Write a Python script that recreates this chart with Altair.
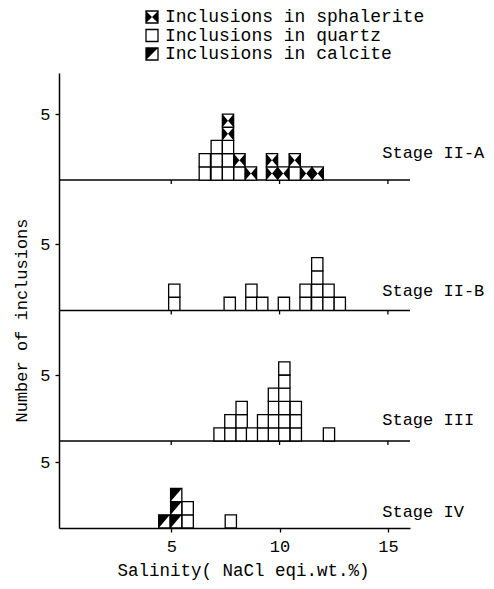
import altair as alt
import pandas as pd

# ---------------- data ----------------
stages = ["Stage II-A", "Stage II-B", "Stage III", "Stage IV"]

# column centres (wt.% NaCl) and number of inclusions per host mineral
iia_centers = [6.55, 7.10, 7.62, 8.15, 8.68, 9.65, 10.17, 10.70, 11.23, 11.76]
iia_quartz  = [2, 3, 3, 1, 0, 0, 0, 1, 0, 0]
iia_sphal   = [0, 0, 2, 1, 1, 2, 1, 1, 1, 1]
iia_calc    = [0, 0, 0, 0, 0, 0, 0, 0, 0, 0]

iib_centers = [5.14, 7.70, 8.70, 9.20, 10.20, 11.20, 11.74, 12.26, 12.78]
iib_quartz  = [2, 1, 2, 1, 1, 2, 4, 2, 1]
iib_sphal   = [0, 0, 0, 0, 0, 0, 0, 0, 0]
iib_calc    = [0, 0, 0, 0, 0, 0, 0, 0, 0]

iii_centers = [7.23, 7.73, 8.25, 8.73, 9.24, 9.74, 10.22, 10.75, 12.28]
iii_quartz  = [1, 2, 3, 1, 2, 4, 6, 3, 1]
iii_sphal   = [0, 0, 0, 0, 0, 0, 0, 0, 0]
iii_calc    = [0, 0, 0, 0, 0, 0, 0, 0, 0]

iv_centers = [4.68, 5.23, 5.76, 7.75]
iv_quartz  = [0, 0, 2, 1]
iv_sphal   = [0, 0, 0, 0]
iv_calc    = [1, 3, 0, 0]

x_ticks = [5, 10, 15]
legend_labels = ["Inclusions in sphalerite", "Inclusions in quartz", "Inclusions in calcite"]
legend_kinds = ["sphalerite", "quartz", "calcite"]

# ---------------- layout (not data) ----------------
panel_base = [26.36, 16.48, 6.59, 0.0]      # vertical offset of each stacked panel (counts)
y_top = 34.47
x_min, x_max = -0.18, 16.02
half_w = 0.26                                  # half width of one class (wt.%)
label_x = 14.74
label_dy = [2.05, 1.5, 1.6, 1.2]
FONT = "Liberation Mono"

panels = [
    (iia_centers, iia_quartz, iia_sphal, iia_calc),
    (iib_centers, iib_quartz, iib_sphal, iib_calc),
    (iii_centers, iii_quartz, iii_sphal, iii_calc),
    (iv_centers, iv_quartz, iv_sphal, iv_calc),
]

rows = []
for p, (cs, q, s, c) in enumerate(panels):
    base = panel_base[p]
    for i, cx in enumerate(cs):
        level = 0
        for kind, n in (("quartz", q[i]), ("sphalerite", s[i]), ("calcite", c[i])):
            for _ in range(n):
                rows.append({
                    "stage": stages[p], "kind": kind,
                    "x0": cx - half_w, "x1": cx + half_w, "xc": cx,
                    "y0": base + level, "y1": base + level + 1, "yc": base + level + 0.5,
                })
                level += 1
squares = pd.DataFrame(rows)

base_df = pd.DataFrame({"x0": [x_min] * 3, "x1": [x_max] * 3, "y": panel_base[:3]})
tick_rows = []
for b in panel_base[:3]:
    for t in x_ticks:
        tick_rows.append({"x": t, "y": b, "y2": b - 0.3})
tick_df = pd.DataFrame(tick_rows)
label_df = pd.DataFrame({"stage": stages, "x": [label_x] * 4,
                         "y": [b + d for b, d in zip(panel_base, label_dy)]})

xs = alt.Scale(domain=[x_min, x_max], nice=False, zero=False)
ys = alt.Scale(domain=[0, y_top], nice=False, zero=False)

yaxis = alt.Axis(values=[b + 5 for b in panel_base], labelExpr="'5'", grid=False,
                 title="Number of inclusions", titleFont=FONT, titleFontSize=17,
                 titleFontWeight="normal", titleX=-29, titleY=247, titleColor="black",
                 labelFont=FONT, labelFontSize=17, labelColor="black", labelPadding=5,
                 tickSize=4, tickColor="black", tickWidth=1.3,
                 domainColor="black", domainWidth=1.5)
xaxis = alt.Axis(values=x_ticks, format="d", grid=False,
                 title="Salinity( NaCl eqi.wt.%)", titleFont=FONT, titleFontSize=17.5,
                 titleFontWeight="normal", titleX=184, titleY=47,
                 titleBaseline="alphabetic", titleColor="black",
                 labelFont=FONT, labelFontSize=17, labelColor="black", labelPadding=6,
                 tickSize=4, tickColor="black", tickWidth=1.3,
                 domainColor="black", domainWidth=1.5)


def X(field):
    return alt.X(field, scale=xs, axis=xaxis)


def Y(field):
    return alt.Y(field, scale=ys, axis=yaxis)


baselines = alt.Chart(base_df).mark_rule(color="black", strokeWidth=1.5).encode(
    x=X("x0:Q"), x2="x1:Q", y=Y("y:Q"),
)

ticks = alt.Chart(tick_df).mark_rule(color="black", strokeWidth=1.3).encode(
    x=X("x:Q"), y=Y("y:Q"), y2="y2:Q",
)

rects = alt.Chart(squares).mark_rect(fill="white", stroke="black", strokeWidth=1.3).encode(
    x=X("x0:Q"), x2="x1:Q", y=Y("y0:Q"), y2="y1:Q",
)

BOW = "M-0.85,-1L0,0L-0.85,1Z M0.85,-1L0,0L0.85,1Z"
HALF = "M-0.85,-1L0.85,-1L-0.85,1Z"

sph_fill = alt.Chart(squares).transform_filter(alt.datum.kind == "sphalerite").mark_point(
    shape=BOW, filled=True, color="black", opacity=1, size=174, strokeWidth=0
).encode(x=X("xc:Q"), y=Y("yc:Q"))

calc_fill = alt.Chart(squares).transform_filter(alt.datum.kind == "calcite").mark_point(
    shape=HALF, filled=True, color="black", opacity=1, size=174, strokeWidth=0
).encode(x=X("xc:Q"), y=Y("yc:Q"))

stage_text = alt.Chart(label_df).mark_text(
    align="left", baseline="middle", font=FONT, fontSize=17, color="black"
).encode(x=X("x:Q"), y=Y("y:Q"), text="stage:N")

# legend drawn as marks above the plot
legend_layers = []
legend_y = [-56, -37.5, -19]
one = pd.DataFrame({"k": [0]})
for lab, kind, ly in zip(legend_labels, legend_kinds, legend_y):
    legend_layers.append(alt.Chart(one).mark_point(
        shape="square", size=144, filled=True, fill="white", stroke="black",
        strokeWidth=1.3, opacity=1).encode(x=alt.value(93), y=alt.value(ly)))
    if kind != "quartz":
        path = "M-1,-1L0,0L-1,1Z M1,-1L0,0L1,1Z" if kind == "sphalerite" else "M-1,-1L1,-1L-1,1Z"
        legend_layers.append(alt.Chart(one).mark_point(
            shape=path, size=144, filled=True, color="black", opacity=1,
            strokeWidth=0).encode(x=alt.value(93), y=alt.value(ly)))
    legend_layers.append(alt.Chart(one).mark_text(
        align="left", baseline="middle", font=FONT, fontSize=18, color="black",
        text=lab).encode(x=alt.value(106), y=alt.value(ly)))

chart = alt.layer(baselines, ticks, rects, sph_fill, calc_fill, stage_text,
                  *legend_layers).properties(
    width=351, height=455,
    autosize=alt.AutoSizeParams(type="none"),
    padding={"left": 51, "top": 65, "right": 76, "bottom": 53},
    background="white",
).configure_view(stroke=None)

chart.save("out.html", embed_options={"renderer": "svg", "actions": False})
